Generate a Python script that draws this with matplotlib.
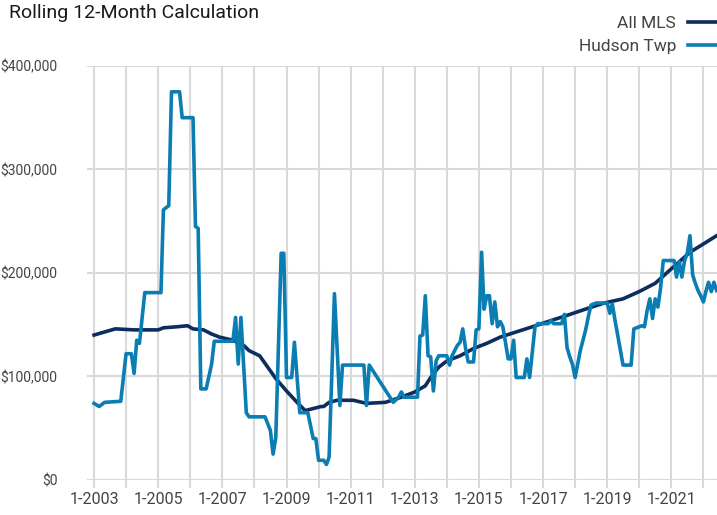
import pandas as pd
import matplotlib
matplotlib.use("Agg")
from matplotlib import pyplot as plt
from matplotlib.ticker import FuncFormatter

plt.rcParams['font.family'] = ['Roboto', 'DejaVu Sans']

# Hudson Twp, rolling 12-month median price (thousands of $)
hudsonDates = [
    "2003-01", "2003-03", "2003-05", "2003-11", "2004-01", "2004-03", "2004-04", "2004-05",
    "2004-06", "2004-08", "2005-02", "2005-03", "2005-05", "2005-06", "2005-09", "2005-10",
    "2006-02", "2006-03", "2006-04", "2006-05", "2006-07", "2006-09", "2006-10", "2007-05",
    "2007-06", "2007-07", "2007-08", "2007-10", "2007-11", "2008-05", "2008-07", "2008-08",
    "2008-09", "2008-11", "2008-12", "2009-01", "2009-03", "2009-04", "2009-06", "2009-09",
    "2009-11", "2009-12", "2010-01", "2010-03", "2010-04", "2010-05", "2010-07", "2010-09",
    "2010-10", "2011-06", "2011-07", "2011-08", "2012-04", "2012-05", "2012-07", "2012-08",
    "2012-09", "2013-02", "2013-03", "2013-04", "2013-05", "2013-06", "2013-07", "2013-08",
    "2013-09", "2013-10", "2014-01", "2014-02", "2014-03", "2014-05", "2014-06", "2014-07",
    "2014-08", "2014-09", "2014-11", "2014-12", "2015-01", "2015-02", "2015-03", "2015-04",
    "2015-05", "2015-06", "2015-07", "2015-08", "2015-09", "2015-10", "2015-11", "2015-12",
    "2016-01", "2016-02", "2016-03", "2016-06", "2016-07", "2016-08", "2016-10", "2016-11",
    "2017-03", "2017-04", "2017-05", "2017-08", "2017-09", "2017-10", "2017-11", "2017-12",
    "2018-01", "2018-03", "2018-05", "2018-06", "2018-07", "2018-09", "2019-01", "2019-02",
    "2019-03", "2019-04", "2019-07", "2019-10", "2019-11", "2020-01", "2020-02", "2020-03",
    "2020-04", "2020-05", "2020-06", "2020-07", "2020-08", "2020-09", "2020-10", "2021-02",
    "2021-03", "2021-04", "2021-05", "2021-06", "2021-07", "2021-08", "2021-09", "2021-10",
    "2021-11", "2021-12", "2022-01", "2022-02", "2022-03", "2022-04", "2022-05", "2022-06",
]
hudsonValues = [
    74, 71, 75, 76, 122, 122, 103, 135,
    132, 181, 181, 261, 265, 375, 375, 350,
    350, 245, 243, 88, 88, 112, 134, 134,
    157, 112, 157, 65, 61, 61, 48, 25,
    41, 219, 219, 99, 99, 133, 65, 65,
    40, 40, 19, 19, 15, 22, 180, 72,
    111, 111, 72, 111, 79, 75, 80, 85,
    80, 80, 139, 140, 178, 120, 119, 86,
    115, 120, 120, 111, 120, 130, 133, 146,
    128, 114, 114, 145, 146, 220, 165, 178,
    178, 151, 172, 148, 153, 148, 132, 117,
    117, 135, 99, 99, 117, 99, 148, 151,
    151, 154, 151, 151, 160, 128, 119, 112,
    99, 125, 145, 158, 169, 171, 171, 161,
    170, 154, 111, 111, 146, 148, 149, 148,
    164, 175, 156, 175, 167, 186, 212, 212,
    196, 211, 196, 212, 219, 236, 198, 190,
    183, 178, 172, 183, 191, 182, 191, 183,
]

# All MLS (thousands of $)
mlsDates = [
    "2003-01", "2003-05", "2003-09", "2004-04", "2005-01", "2005-03", "2005-08", "2005-12",
    "2006-02", "2006-06", "2006-09", "2006-12", "2007-05", "2007-09", "2007-11", "2008-03",
    "2008-06", "2008-09", "2009-01", "2009-05", "2009-08", "2009-11", "2010-02", "2010-03",
    "2010-05", "2010-08", "2011-02", "2011-07", "2012-02", "2012-08", "2013-01", "2013-05",
    "2013-07", "2013-10", "2014-01", "2014-06", "2014-11", "2015-04", "2015-09", "2016-03",
    "2016-09", "2017-04", "2017-10", "2018-06", "2018-12", "2019-07", "2020-01", "2020-07",
    "2021-01", "2021-08", "2022-01", "2022-06",
]
mlsValues = [
    140, 143, 146, 145, 145, 147, 148, 149,
    146, 145, 141, 138, 135, 130, 125, 120,
    109, 98, 86, 75, 67, 69, 71, 71,
    75, 77, 77, 74, 75, 80, 85, 91,
    99, 109, 115, 120, 127, 132, 138, 143,
    148, 154, 159, 166, 171, 175, 182, 190,
    204, 220, 228, 236,
]

xTickYears = list(range(2003, 2023, 2))
yTicks = [0, 100000, 200000, 300000, 400000]

navy = "#0c2d5e"
blue = "#0a7db3"
gridColor = "#d9d9d9"

fig = plt.figure(figsize=(7.17, 5.15), dpi=100)
ax = fig.add_axes([0.121, 0.068, 0.879, 0.804])

hx = pd.to_datetime(hudsonDates)
mx = pd.to_datetime(mlsDates)
ax.plot(mx, [v * 1000 for v in mlsValues], color=navy, lw=2.6, label="All MLS",
        solid_joinstyle="round", zorder=3)
ax.plot(hx, [v * 1000 for v in hudsonValues], color=blue, lw=2.6, label="Hudson Twp",
        solid_joinstyle="round", zorder=4)

ax.set_ylim(0, 400000)
ax.set_xlim(pd.Timestamp("2002-10-10"), pd.Timestamp("2022-06-05"))
ax.set_yticks(yTicks)
ax.yaxis.set_major_formatter(FuncFormatter(lambda v, p: "${:,.0f}".format(v)))

ax.set_xticks([pd.Timestamp(f"{y}-01-01") for y in range(2003, 2023)])
ax.set_xticklabels([f"1-{y}" if y in xTickYears else "" for y in range(2003, 2023)])

ax.grid(True, color=gridColor, lw=1.5)
ax.set_axisbelow(True)
for s in ax.spines.values():
    s.set_visible(False)
ax.tick_params(axis="x", length=6, width=1.5, color=gridColor, pad=3,
               labelsize=11.5, labelcolor="#444444")
ax.tick_params(axis="y", length=0, pad=21, labelsize=10, labelcolor="#444444")

fig.text(0.012, 0.975, "Rolling 12-Month Calculation", fontsize=14, color="#1a1a1a",
         va="center", ha="left")

fig.legend(loc="upper right", bbox_to_anchor=(1.03, 1.0), frameon=False,
           markerfirst=False, fontsize=12.5, handlelength=2.0, handletextpad=0.7,
           labelspacing=0.45, labelcolor="#444444")

fig.savefig("out.png", dpi=100)
